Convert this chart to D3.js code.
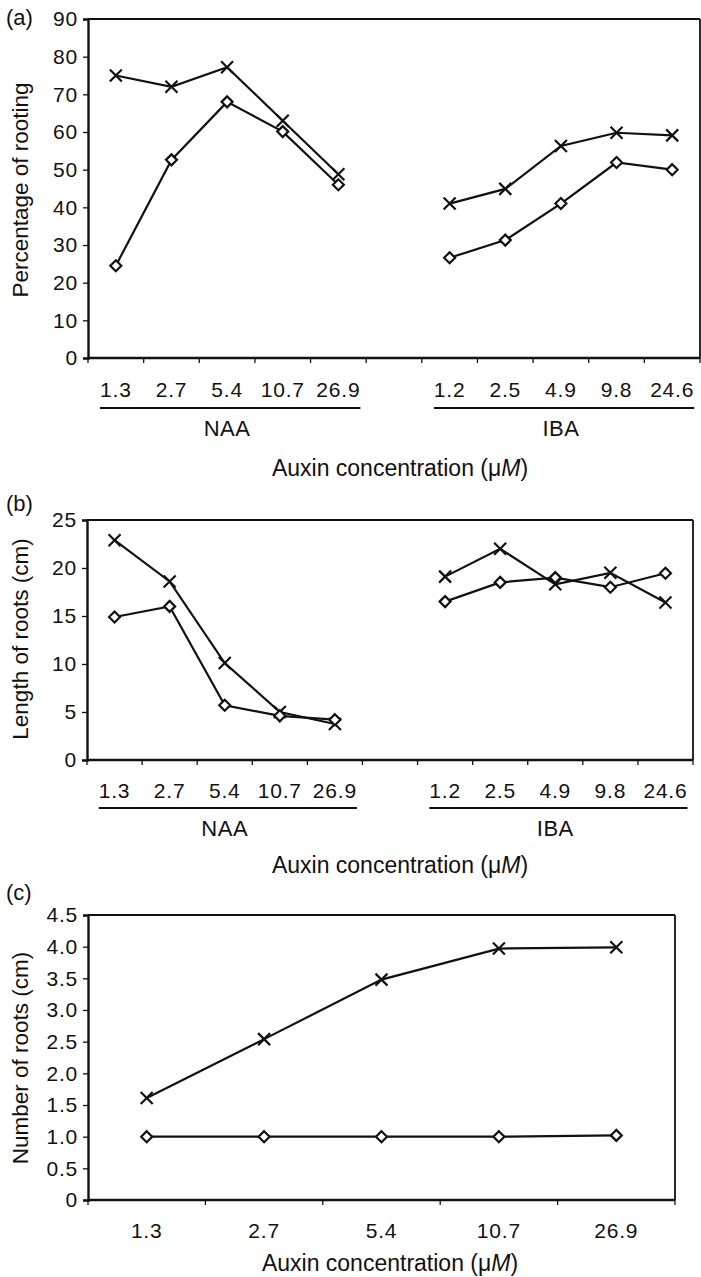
<!DOCTYPE html>
<html>
<head>
<meta charset="utf-8">
<script src="https://cdn.jsdelivr.net/npm/d3@7"></script>
<style>
  body { margin: 0; background: #fff; }
  svg { display: block; }
  text { font-family: "Liberation Sans", Arial, sans-serif; fill: #111; }
</style>
</head>
<body>
<svg id="chart" width="701" height="1277"></svg>
<script>
"use strict";

// concentrations (uM)
var naaConc = ["1.3", "2.7", "5.4", "10.7", "26.9"];
var ibaConc = ["1.2", "2.5", "4.9", "9.8", "24.6"];

// (a) percentage of rooting
var rootingCrossNAA = [75, 72, 77.2, 63, 48.8];
var rootingDiamondNAA = [24.5, 52.6, 68, 60.1, 46];
var rootingCrossIBA = [41, 44.9, 56.3, 59.8, 59.1];
var rootingDiamondIBA = [26.6, 31.3, 41, 51.9, 50];

// (b) length of roots (cm)
var lengthCrossNAA = [22.9, 18.6, 10.1, 5, 3.75];
var lengthDiamondNAA = [14.9, 16, 5.7, 4.6, 4.2];
var lengthCrossIBA = [19.1, 22, 18.3, 19.5, 16.4];
var lengthDiamondIBA = [16.5, 18.5, 19, 18, 19.45];

// (c) number of roots, NAA only
var numberCross = [1.61, 2.54, 3.48, 3.97, 3.99];
var numberDiamond = [1, 1, 1, 1, 1.02];

var svg = d3.select("#chart");

function crossPath(s) {
  return "M" + -s + "," + -s + "L" + s + "," + s + "M" + -s + "," + s + "L" + s + "," + -s;
}
function diamondPath(s) {
  return "M0," + -s + "L" + s + ",0L0," + s + "L" + -s + ",0Z";
}

function drawPanel(p) {
  var g = svg.append("g");

  var x = d3.scaleBand().domain(p.domain).range([p.left, p.right]).paddingInner(0).paddingOuter(0);
  var y = d3.scaleLinear().domain([0, p.yMax]).range([p.bottom, p.top]);

  // frame
  g.append("line").attr("x1", p.left).attr("x2", p.right).attr("y1", p.top).attr("y2", p.top)
    .attr("stroke", "#111").attr("stroke-width", 1.8);
  g.append("line").attr("x1", p.right).attr("x2", p.right).attr("y1", p.top).attr("y2", p.bottom)
    .attr("stroke", "#111").attr("stroke-width", 1.8);

  // y axis
  var yAxis = g.append("g").attr("transform", "translate(" + p.left + ",0)")
    .call(d3.axisLeft(y).tickValues(d3.range(0, p.yMax + 1e-9, p.yStep)).tickSize(5).tickPadding(5).tickFormat(p.yFormat));
  yAxis.select(".domain").attr("stroke", "#111").attr("stroke-width", 2.4);
  yAxis.selectAll(".tick line").attr("stroke", "#111").attr("stroke-width", 1.3);
  yAxis.selectAll(".tick text").style("font-size", "21px").style("letter-spacing", "0.8px").attr("fill", "#111")
    .attr("font-family", "Liberation Sans, Arial, sans-serif");

  // x axis: ticks at the band edges, labels at band centres
  var edges = p.domain.map(function (d) { return x(d); }).concat([p.right]);
  g.selectAll(".xtick").data(edges).enter().append("line")
    .attr("x1", function (d) { return d; }).attr("x2", function (d) { return d; })
    .attr("y1", p.bottom).attr("y2", p.bottom + 5)
    .attr("stroke", "#111").attr("stroke-width", 1.3);
  g.append("line").attr("x1", p.left).attr("x2", p.right).attr("y1", p.bottom).attr("y2", p.bottom)
    .attr("stroke", "#111").attr("stroke-width", 2.4);

  var labels = g.selectAll(".xlab").data(p.domain.filter(function (d) { return d !== "gap"; }))
    .enter().append("text")
    .attr("x", function (d) { return x(d) + x.bandwidth() / 2; })
    .attr("y", p.labelY)
    .attr("text-anchor", "middle").attr("dominant-baseline", "central")
    .style("font-size", "21px").style("letter-spacing", "0.8px")
    .text(function (d) { return d.split("|")[1]; });

  // group underlines + names
  (p.groups || []).forEach(function (grp) {
    var nodes = labels.filter(function (d) { return d.split("|")[0] === grp; }).nodes();
    var b0 = nodes[0].getBBox(), b1 = nodes[nodes.length - 1].getBBox();
    g.append("line").attr("x1", b0.x).attr("x2", b1.x + b1.width)
      .attr("y1", p.underlineY).attr("y2", p.underlineY)
      .attr("stroke", "#111").attr("stroke-width", 2.2);
    var mid = x(grp + "|" + (grp === "NAA" ? naaConc[2] : ibaConc[2])) + x.bandwidth() / 2;
    g.append("text").attr("x", mid).attr("y", p.groupY)
      .attr("text-anchor", "middle").attr("dominant-baseline", "central")
      .style("font-size", "22px").style("letter-spacing", "0.5px").text(grp);
  });

  // axis titles
  var xt = g.append("text").attr("x", p.titleX).attr("y", p.titleY)
    .attr("text-anchor", "middle").attr("dominant-baseline", "central")
    .style("font-size", "23px");
  xt.append("tspan").text("Auxin concentration (\u03bc");
  xt.append("tspan").attr("font-style", "italic").text("M");
  xt.append("tspan").text(")");

  g.append("text").attr("transform", "translate(20," + p.yTitleY + ") rotate(-90)")
    .attr("text-anchor", "middle").attr("dominant-baseline", "central")
    .style("font-size", "22.5px").text(p.yTitle);

  g.append("text").attr("x", 6).attr("y", p.tagY).attr("dominant-baseline", "central")
    .style("font-size", "22px").text(p.tag);

  // series
  var line = d3.line()
    .x(function (d) { return x(d.key) + x.bandwidth() / 2; })
    .y(function (d) { return y(d.v); });

  p.series.forEach(function (s) {
    var pts = s.values.map(function (v, i) { return { key: s.group + "|" + s.conc[i], v: v }; });
    g.append("path").datum(pts).attr("d", line)
      .attr("fill", "none").attr("stroke", "#111").attr("stroke-width", 2.2);
    g.selectAll(null).data(pts).enter().append("path")
      .attr("transform", function (d) { return "translate(" + (x(d.key) + x.bandwidth() / 2) + "," + y(d.v) + ")"; })
      .attr("d", s.marker === "x" ? crossPath(6) : diamondPath(5.5))
      .attr("fill", s.marker === "x" ? "none" : "#fff")
      .attr("stroke", "#111").attr("stroke-width", 2.2);
  });
}

var twoGroupDomain = naaConc.map(function (c) { return "NAA|" + c; })
  .concat(["gap"])
  .concat(ibaConc.map(function (c) { return "IBA|" + c; }));

drawPanel({
  tag: "(a)", tagY: 17,
  domain: twoGroupDomain,
  left: 88, right: 700, top: 19, bottom: 358,
  yMax: 90, yStep: 10, yFormat: d3.format("d"),
  labelY: 389, underlineY: 408, groupY: 428, groups: ["NAA", "IBA"],
  titleX: 400, titleY: 468,
  yTitle: "Percentage of rooting", yTitleY: 190,
  series: [
    { group: "NAA", conc: naaConc, values: rootingCrossNAA, marker: "x" },
    { group: "NAA", conc: naaConc, values: rootingDiamondNAA, marker: "d" },
    { group: "IBA", conc: ibaConc, values: rootingCrossIBA, marker: "x" },
    { group: "IBA", conc: ibaConc, values: rootingDiamondIBA, marker: "d" }
  ]
});

drawPanel({
  tag: "(b)", tagY: 503,
  domain: twoGroupDomain,
  left: 87, right: 693, top: 520, bottom: 760,
  yMax: 25, yStep: 5, yFormat: d3.format("d"),
  labelY: 790, underlineY: 808, groupY: 828, groups: ["NAA", "IBA"],
  titleX: 400, titleY: 865,
  yTitle: "Length of roots (cm)", yTitleY: 639,
  series: [
    { group: "NAA", conc: naaConc, values: lengthCrossNAA, marker: "x" },
    { group: "NAA", conc: naaConc, values: lengthDiamondNAA, marker: "d" },
    { group: "IBA", conc: ibaConc, values: lengthCrossIBA, marker: "x" },
    { group: "IBA", conc: ibaConc, values: lengthDiamondIBA, marker: "d" }
  ]
});

drawPanel({
  tag: "(c)", tagY: 892,
  domain: naaConc.map(function (c) { return "NAA|" + c; }),
  left: 88, right: 675, top: 915, bottom: 1200,
  yMax: 4.5, yStep: 0.5, yFormat: function (d) { return d === 0 ? "0" : d3.format(".1f")(d); },
  labelY: 1230, groups: [],
  titleX: 390, titleY: 1263,
  yTitle: "Number of roots (cm)", yTitleY: 1058,
  series: [
    { group: "NAA", conc: naaConc, values: numberCross, marker: "x" },
    { group: "NAA", conc: naaConc, values: numberDiamond, marker: "d" }
  ]
});
</script>
</body>
</html>
